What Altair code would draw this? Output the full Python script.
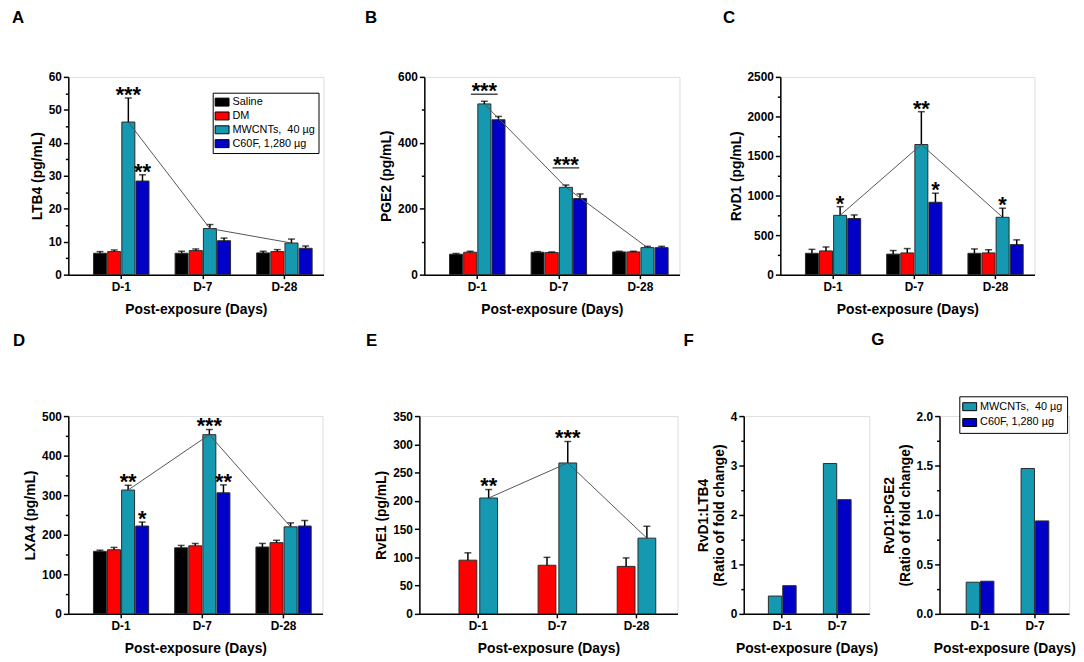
import altair as alt
import pandas as pd

FONT = "Liberation Sans"

days3 = ["D-1", "D-7", "D-28"]
days2 = ["D-1", "D-7"]
SAL, DM, MW, C60 = "Saline", "DM", "MWCNTs,\u00a0 40 µg", "C60F, 1,280 µg"
groups = [SAL, DM, MW, C60]
colors = {SAL: "#000000", DM: "#FF0000", MW: "#1599B1", C60: "#0000C6"}

# ---- A: LTB4 (pg/mL)
ltb4_mean = {SAL: [6.5, 6.5, 6.6], DM: [7.0, 7.3, 7.0], MW: [46.3, 14.0, 9.6], C60: [28.4, 10.3, 8.0]}
ltb4_upper = {SAL: [7.0, 7.1, 7.1], DM: [7.5, 7.8, 7.6], MW: [53.6, 15.2, 10.8], C60: [30.3, 11.1, 8.7]}
ltb4_stars = [("D-1", MW, 53.6, "***"), ("D-1", C60, 30.3, "**")]

# ---- B: PGE2 (pg/mL)
pge2_mean = {SAL: [62, 68, 69], DM: [68, 67, 69], MW: [518, 265, 82], C60: [470, 231, 82]}
pge2_upper = {SAL: [64, 70, 71], DM: [71, 69, 71], MW: [526, 272, 86], C60: [480, 245, 86]}
pge2_stars = [("D-1", MW, 547, "***"), ("D-7", MW, 324, "***")]
pge2_brackets = [("D-1", MW, 547), ("D-7", MW, 324)]

# ---- C: RvD1 (pg/mL)
rvd1_mean = {SAL: [270, 260, 270], DM: [300, 275, 275], MW: [750, 1645, 725], C60: [710, 915, 380]}
rvd1_upper = {SAL: [320, 305, 325], DM: [350, 330, 315], MW: [860, 2060, 840], C60: [755, 1030, 440]}
rvd1_stars = [("D-1", MW, 860, "*"), ("D-7", MW, 2060, "**"), ("D-7", C60, 1030, "*"), ("D-28", MW, 840, "*")]

# ---- D: LXA4 (pg/mL)
lxa4_mean = {SAL: [158, 167, 169], DM: [162, 172, 180], MW: [313, 453, 220], C60: [222, 306, 222]}
lxa4_upper = {SAL: [161, 173, 178], DM: [168, 178, 186], MW: [325, 466, 230], C60: [232, 326, 236]}
lxa4_stars = [("D-1", MW, 325, "**"), ("D-1", C60, 232, "*"), ("D-7", MW, 466, "***"), ("D-7", C60, 326, "**")]

# ---- E: RvE1 (pg/mL)
rve1_mean = {DM: [95, 86, 84], MW: [205, 267, 134]}
rve1_upper = {DM: [108, 100, 99], MW: [220, 305, 155]}
rve1_stars = [("D-1", MW, 220, "**"), ("D-7", MW, 305, "***")]

# ---- F / G: ratios of fold change
ratio_ltb4 = {MW: [0.36, 3.04], C60: [0.57, 2.31]}
ratio_pge2 = {MW: [0.32, 1.47], C60: [0.33, 0.94]}


def long_df(days, mean, upper=None):
    rows = []
    for g, vals in mean.items():
        for i, d in enumerate(days):
            r = {"day": d, "group": g, "mean": vals[i]}
            if upper is not None:
                r["upper"] = upper[g][i]
            rows.append(r)
    return pd.DataFrame(rows)


RECT = "M-1.17,-0.67H1.17V0.67H-1.17Z"


def panel(days, mean, upper, stars, ytitle, ydomain, yvalues, major, fmt,
          letter, ldx, loff, width, xgeom, off_domain, off_pad,
          legend=None, line=True, brackets=None):
    df = long_df(days, mean, upper)
    pi, po, al = xgeom
    x = alt.X("day:N", sort=days,
              scale=alt.Scale(domain=days, paddingInner=pi, paddingOuter=po, align=al),
              axis=alt.Axis(title="Post-exposure (Days)", labelAngle=0, tickSize=4,
                            labelPadding=3, titlePadding=10, domainColor="black",
                            domainWidth=1.5, tickColor="black", tickWidth=1.5,
                            labelFontSize=12, labelFontWeight="bold", labelColor="black",
                            titleFontSize=14, titleFontWeight="bold", titleColor="black",
                            labelFont=FONT, titleFont=FONT))
    xo = alt.XOffset("group:N", scale=alt.Scale(domain=off_domain, paddingInner=off_pad, paddingOuter=0))
    minor_test = f"abs(datum.value/{major} - round(datum.value/{major})) > 0.001"
    yscale = alt.Scale(domain=ydomain, nice=False, zero=True)
    yaxis = alt.Axis(title=ytitle, values=yvalues, format=fmt,
                     labelExpr=f"{minor_test} ? '' : datum.label",
                     labelOverlap=False, labelFlush=False, labelBound=False,
                     tickSize={"condition": {"test": minor_test, "value": 3}, "value": 5},
                     grid=False, domainColor="black", domainWidth=1.5,
                     tickColor="black", tickWidth=1.5, labelPadding=2, titlePadding=4,
                     labelFontSize=12, labelFontWeight="bold", labelColor="black",
                     titleFontSize=14, titleFontWeight="bold", titleColor="black",
                     titleLineHeight=16, labelFont=FONT, titleFont=FONT)

    def Y(field):
        return alt.Y(field, scale=yscale, axis=yaxis)

    cdom = list(mean.keys())
    color = alt.Color("group:N", scale=alt.Scale(domain=cdom, range=[colors[g] for g in cdom]),
                      legend=legend)
    base = alt.Chart(df)
    layers = [base.mark_bar(stroke="#2a2a2a", strokeWidth=1).encode(
        x=x, xOffset=xo, y=Y("mean:Q"), color=color)]
    if upper is not None:
        layers.append(base.mark_rule(color="black", strokeWidth=1.5).encode(
            x=x, xOffset=xo, y=Y("mean:Q"), y2="upper:Q"))
        layers.append(base.mark_tick(color="black", thickness=1.5, size=7, orient="horizontal").encode(
            x=x, xOffset=xo, y=Y("upper:Q")))
    if line:
        ldf = df[df["group"] == MW]
        layers.append(alt.Chart(ldf).mark_line(color="#555555", strokeWidth=1).encode(
            x=x, xOffset=xo, y=Y("mean:Q")))
    if stars:
        sdf = pd.DataFrame(stars, columns=["day", "group", "anchor", "txt"])
        layers.append(alt.Chart(sdf).mark_text(fontSize=22, fontWeight="bold", baseline="alphabetic",
                                               dy=4, color="black", font=FONT).encode(
            x=x, xOffset=xo, y=Y("anchor:Q"), text="txt:N"))
    if brackets:
        bdf = pd.DataFrame(brackets, columns=["day", "group", "anchor"])
        layers.append(alt.Chart(bdf).mark_tick(color="black", thickness=1.5, size=27,
                                               orient="horizontal").encode(
            x=x, xOffset=xo, y=Y("anchor:Q")))
    return alt.layer(*layers).properties(
        width=width, height=200,
        title=alt.TitleParams(text=letter, anchor="start", frame="group", dx=ldx, offset=loff,
                              fontSize=17, fontWeight="bold", baseline="alphabetic",
                              font=FONT, color="black"))


geom4 = (0.32, 0.224, 0.69)


def make_legend(lx, ly, rp, pad):
    return alt.Legend(title=None, orient="none", legendX=lx, legendY=ly, strokeColor="black",
                      fillColor="white", padding=pad, labelFontSize=11, labelFont=FONT,
                      labelColor="black", symbolType=RECT, symbolSize=144,
                      symbolStrokeColor="black", symbolStrokeWidth=1, symbolOpacity=1,
                      rowPadding=rp, labelOffset=4, labelLimit=0)


A = panel(days3, ltb4_mean, ltb4_upper, ltb4_stars, "LTB4 (pg/mL)", [0, 60],
          list(range(0, 61, 5)), 10, "d", "A", -57, 31, 258, geom4, groups, 0.08,
          legend=make_legend(146, 16, 1, 3))
B = panel(days3, pge2_mean, pge2_upper, pge2_stars, "PGE2 (pg/mL)", [0, 600],
          list(range(0, 601, 100)), 200, "d", "B", -60, 31, 258, geom4, groups, 0.08,
          brackets=pge2_brackets)
C = panel(days3, rvd1_mean, rvd1_upper, rvd1_stars, "RvD1 (pg/mL)", [0, 2500],
          list(range(0, 2501, 250)), 500, "d", "C", -58, 31, 257, geom4, groups, 0.08)
D = panel(days3, lxa4_mean, lxa4_upper, lxa4_stars, "LXA4 (pg/mL)", [0, 500],
          list(range(0, 501, 50)), 100, "d", "D", -56, 48, 257, geom4, groups, 0.08)
E = panel(days3, rve1_mean, rve1_upper, rve1_stars, "RvE1 (pg/mL)", [0, 350],
          list(range(0, 351, 50)), 50, "d", "E", -54, 48, 261, (0.5125, 0.3875, 0.646),
          [DM, MW], 0.143)
F = panel(days2, ratio_ltb4, None, None, ["RvD1:LTB4", "(Ratio of fold change)"], [0, 4],
          [i * 0.5 for i in range(9)], 1, ".0f", "F", -61, 48, 127, (0.495, 0.39, 0.575),
          [MW, C60], 0.069, line=False)
G = panel(days2, ratio_pge2, None, None, ["RvD1:PGE2", "(Ratio of fold change)"], [0, 2],
          [i * 0.25 for i in range(9)], 0.5, ".1f", "G", -69, 34, 131, (0.495, 0.4275, 0.568),
          [MW, C60], 0.069, legend=make_legend(20, -20, 3, 4), line=False)


def indep(c):
    return c.resolve_scale(color="independent", xOffset="independent").resolve_legend(color="independent")


row1 = indep(alt.hconcat(A, B, C, spacing=102, bounds="flush"))
DE = indep(alt.hconcat(D, E, spacing=98, bounds="flush"))
FG = indep(alt.hconcat(F, G, spacing=71, bounds="flush"))
row2 = indep(alt.hconcat(DE, FG, spacing=4))

chart = indep(alt.vconcat(row1, row2, spacing=14)).properties(
    padding={"left": 3, "top": -3, "right": 0, "bottom": 0}
).configure_view(stroke=None).configure(font=FONT, background="white")

chart.save("out.html", embed_options={"renderer": "svg", "actions": False})
